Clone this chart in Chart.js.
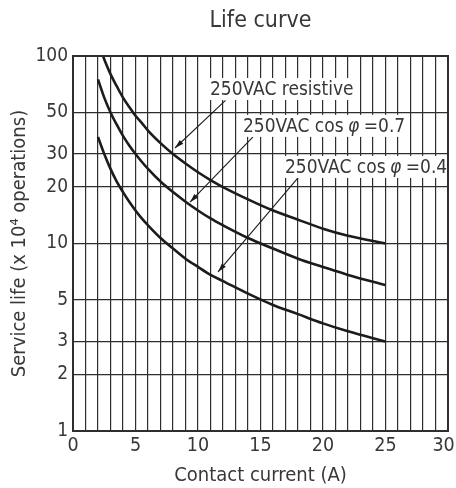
<!DOCTYPE html>
<html>
<head>
<meta charset="utf-8">
<script src="https://cdn.jsdelivr.net/npm/chart.js@4.4.1/dist/chart.umd.min.js"></script>
<style>
html,body{margin:0;padding:0;background:#fff;}
#wrap{width:456px;height:488px;position:relative;}
</style>
</head>
<body>
<div id="wrap"><canvas id="c" width="456" height="488"></canvas></div>
<script>
// ---- data ----
const titleText = "Life curve";
const xTitle = "Contact current (A)";
const yTitle = "Service life (x 10\u2074 operations)";
const yTickValues = [1, 2, 3, 5, 10, 20, 30, 50, 100];
const xLabelStep = 5;

const resistiveI    = [2.4, 2.7, 3, 3.5, 4, 4.5, 5, 5.5, 6, 7, 8, 9, 10, 11, 12, 14, 16, 18, 20, 22, 25];
const resistiveLife = [100, 89, 80, 69, 60, 53.5, 48, 44, 40, 34.3, 30, 26.7, 24, 21.8, 20, 17.2, 15, 13.4, 12, 11, 10];
const cos07I    = [2, 2.5, 3, 3.5, 4, 4.5, 5, 5.5, 6, 7, 8, 9, 10, 11, 12, 14, 16, 18, 20, 22, 25];
const cos07Life = [75, 60, 50, 43, 37.5, 33.3, 30, 27.3, 25, 21.4, 18.8, 16.7, 15, 13.6, 12.5, 10.7, 9.4, 8.3, 7.5, 6.8, 6];
const cos04I    = [2, 2.5, 3, 3.5, 4, 4.5, 5, 5.5, 6, 7, 8, 9, 10, 11, 12, 14, 16, 18, 20, 22, 25];
const cos04Life = [37, 30, 25, 21.4, 18.8, 16.7, 15, 13.6, 12.5, 10.7, 9.4, 8.3, 7.5, 6.8, 6.3, 5.4, 4.7, 4.2, 3.75, 3.4, 3];

const seriesNames = ["250VAC resistive", "250VAC cos \u03C6 =0.7", "250VAC cos \u03C6 =0.4"];
// annotation label anchors (left x, centre y) and arrow from/to, in data units
const labelAt = [[10.96, 66.7], [13.6, 42.4], [16.96, 25.6]];
const arrowFrom = [[12.2, 58], [14.4, 37], [18.2, 23.2]];
const arrowTo = [[8.16, 32.3], [9.36, 16.6], [11.6, 7.05]];

const FONT = "'DejaVu Sans Condensed', 'Liberation Sans Narrow', sans-serif";
const TXT = '#383838';
const LINE = '#1c1c1c';
const GRID = '#2e2e2e';
const LABEL_SIZE = 19;

function pts(xs, ys){ return xs.map((x,i)=>({x:x, y:ys[i]})); }

// draw text where the Greek phi is set in italic; spaces around it slightly narrower
function segs(str){
  const out = []; let buf = '';
  for (const ch of str) {
    if (ch === '\u03C6') { if (buf) out.push([buf, false]); out.push([ch, true]); buf = ''; }
    else buf += ch;
  }
  if (buf) out.push([buf, false]);
  return out;
}
function fontFor(it){ return (it ? 'italic ' : '') + LABEL_SIZE + 'px ' + FONT; }
function measureRich(ctx, str){
  let w = 0;
  for (const [t, it] of segs(str)) { ctx.font = fontFor(it); w += ctx.measureText(t).width - (it ? 2 : 0); }
  return w;
}
function drawRich(ctx, str, x, y){
  for (const [t, it] of segs(str)) {
    ctx.font = fontFor(it);
    if (it) x -= 1;
    ctx.fillText(t, x, y);
    x += ctx.measureText(t).width - (it ? 1 : 0);
  }
}

const annotPlugin = {
  id: 'annot',
  afterDatasetsDraw(chart){
    const {ctx, chartArea:a, scales:{x, y}} = chart;
    ctx.save();
    ctx.textBaseline = 'middle';
    for (let i = 0; i < seriesNames.length; i++) {
      // arrow
      const x1 = x.getPixelForValue(arrowFrom[i][0]), y1 = y.getPixelForValue(arrowFrom[i][1]);
      const x2 = x.getPixelForValue(arrowTo[i][0]), y2 = y.getPixelForValue(arrowTo[i][1]);
      ctx.strokeStyle = LINE; ctx.lineWidth = 1.1;
      ctx.beginPath(); ctx.moveTo(x1, y1); ctx.lineTo(x2, y2); ctx.stroke();
      const ang = Math.atan2(y2 - y1, x2 - x1), L = 9, W = 2.6;
      ctx.fillStyle = LINE;
      ctx.beginPath();
      ctx.moveTo(x2, y2);
      ctx.lineTo(x2 - L*Math.cos(ang) + W*Math.sin(ang), y2 - L*Math.sin(ang) - W*Math.cos(ang));
      ctx.lineTo(x2 - L*Math.cos(ang) - W*Math.sin(ang), y2 - L*Math.sin(ang) + W*Math.cos(ang));
      ctx.closePath(); ctx.fill();
      // label with white box
      const lx = x.getPixelForValue(labelAt[i][0]), ly = y.getPixelForValue(labelAt[i][1]);
      const w = measureRich(ctx, seriesNames[i]);
      ctx.fillStyle = '#fff';
      ctx.fillRect(lx - 2, ly - 11, w + 4, 22);
      ctx.fillStyle = TXT;
      drawRich(ctx, seriesNames[i], lx, ly + 1);
    }
    // frame
    ctx.strokeStyle = GRID; ctx.lineWidth = 2;
    ctx.strokeRect(a.left, a.top, a.right - a.left, a.bottom - a.top);
    ctx.restore();
  }
};

const ds = (data) => ({
  data: data, borderColor: LINE, borderWidth: 2.6, pointRadius: 0,
  fill: false, cubicInterpolationMode: 'monotone', clip: 0
});

new Chart(document.getElementById('c'), {
  type: 'line',
  data: { datasets: [ ds(pts(resistiveI, resistiveLife)), ds(pts(cos07I, cos07Life)), ds(pts(cos04I, cos04Life)) ] },
  options: {
    responsive: false, animation: false, devicePixelRatio: 1,
    layout: { padding: { left: 0, right: 0, top: 0, bottom: 0 } },
    plugins: {
      legend: { display: false }, tooltip: { enabled: false },
      title: { display: true, fullSize: false, text: titleText, color: TXT, font: { family: FONT, size: 23, weight: 'normal' }, padding: { top: 7, bottom: 21.4 } }
    },
    scales: {
      x: {
        type: 'linear', min: 0, max: 30,
        grid: { color: GRID, lineWidth: 1.2, drawTicks: false },
        border: { display: false },
        ticks: { stepSize: 1, autoSkip: false, maxRotation: 0, padding: 3, color: TXT, font: { family: FONT, size: 19.5 },
          callback: (v, i, arr) => (v % xLabelStep === 0 ? (i === arr.length - 1 ? String(v) + '\u2002' : String(v)) : '') },
        title: { display: true, text: xTitle, color: TXT, font: { family: FONT, size: 20 }, padding: { top: 4, bottom: 0 } },
        afterFit: s => { s.height = 57; s.paddingRight = 8; }
      },
      y: {
        type: 'logarithmic', min: 1, max: 100,
        grid: { color: GRID, lineWidth: 1.2, drawTicks: false },
        border: { display: false },
        afterBuildTicks: s => { s.ticks = yTickValues.map(v => ({ value: v })); },
        ticks: { autoSkip: false, padding: 5, color: TXT, font: { family: FONT, size: 19 }, callback: v => String(v) },
        title: { display: true, text: yTitle, color: TXT, font: { family: FONT, size: 20 }, padding: { top: 8, bottom: 0 } },
        afterFit: s => { s.width = 73; }
      }
    }
  },
  plugins: [annotPlugin]
});
</script>
</body>
</html>
